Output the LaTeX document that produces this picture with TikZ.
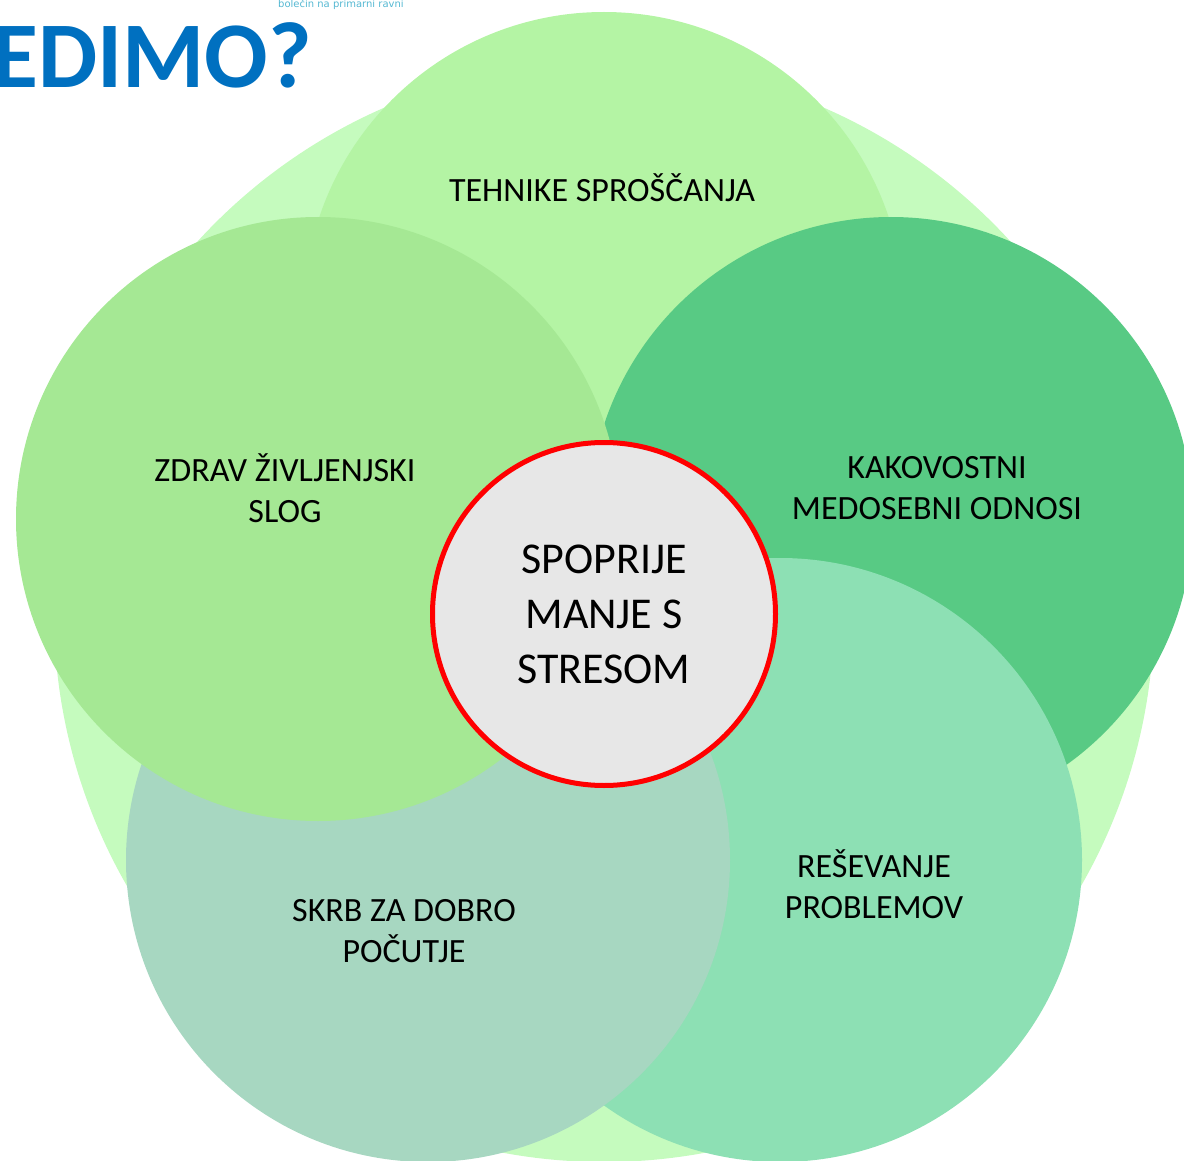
\documentclass[tikz,border=0pt]{standalone}
\usepackage{fontspec}
\setmainfont{Carlito}
\newfontfamily\subfont{DejaVu Sans}
\definecolor{bgGreen}{HTML}{C5FBBE}
\definecolor{topGreen}{HTML}{B4F4A4}
\definecolor{leftGreen}{HTML}{A5E894}
\definecolor{rightGreen}{HTML}{58CA84}
\definecolor{brGreen}{HTML}{8DE0B4}
\definecolor{blGreen}{HTML}{A7D7C1}
\definecolor{coreGray}{HTML}{E7E7E7}
\definecolor{titleBlue}{HTML}{0070C0}
\definecolor{subTeal}{HTML}{55B8D2}

\begin{document}
\begin{tikzpicture}[
  x=1pt, y=-1pt,
  petal/.style={circle, minimum size=604pt, inner sep=0pt},
  lbl/.style={align=center, font=\fontsize{34}{41.5}\selectfont, text=black},
  core/.style={circle, draw=red, line width=5pt, fill=coreGray, minimum size=343pt, inner sep=0pt,
    align=center, font=\fontsize{44}{55}\selectfont}
]
  \useasboundingbox (0,0) rectangle (1184,1161);
  \begin{scope}
    \clip (0,0) rectangle (1184,1161);
    \node[circle, fill=bgGreen, minimum size=1100pt, inner sep=0pt] (bg) at (604,612) {};
    % petals, clockwise from the top
    \node[petal, fill=topGreen, minimum size=600pt] (relax) at (604,312) {};
    \node[petal, fill=rightGreen] (relations) at (891,519) {};
    \node[petal, fill=brGreen] (problems) at (780,860) {};
    \node[petal, fill=blGreen] (wellbeing) at (428,860) {};
    \node[petal, fill=leftGreen] (lifestyle) at (318,519) {};
  \end{scope}

  \node[lbl] (relaxText) at (602,188) {TEHNIKE SPROŠČANJA};
  \node[lbl] (lifestyleText) at (285,488) {ZDRAV ŽIVLJENJSKI\\SLOG};
  \node[lbl] (relationsText) at (937,488) {KAKOVOSTNI\\MEDOSEBNI ODNOSI};
  \node[lbl] (problemsText) at (874,884) {REŠEVANJE\\PROBLEMOV};
  \node[lbl] (wellbeingText) at (404,931) {SKRB ZA DOBRO\\POČUTJE};

  \node[core] (coping) at (604,614) {SPOPRIJE\\MANJE S\\STRESOM};

  \node[anchor=base east, inner sep=0pt, text=titleBlue,
    font=\fontsize{94}{100}\selectfont\bfseries] (title) at (312,88) {EDIMO?};
  \node[anchor=base west, inner sep=0pt, text=subTeal,
    font=\subfont\fontsize{10}{11}\selectfont] (subtitle) at (278,8) {bolečin na primarni ravni};
\end{tikzpicture}
\end{document}
